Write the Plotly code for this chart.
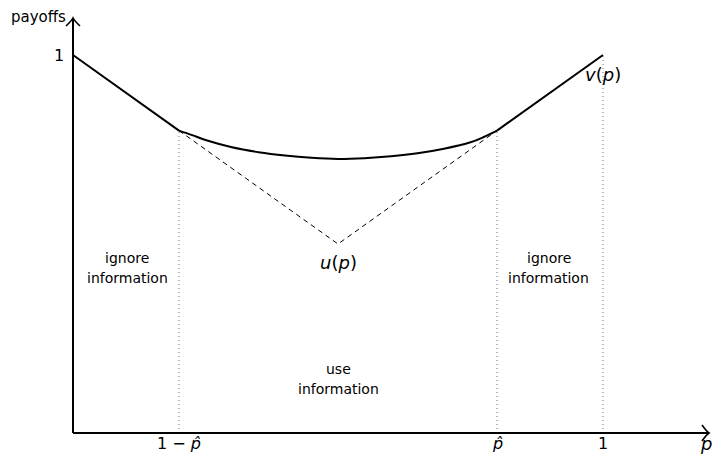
import plotly.graph_objects as go

# ---- data ----
v_left_p = [0.0, 0.2]
v_left_y = [1.0, 0.8]
v_right_p = [0.8, 1.0]
v_right_y = [0.8, 1.0]

curve_p = [0.2, 0.225, 0.25, 0.3, 0.35, 0.4, 0.45, 0.5, 0.55, 0.6, 0.65, 0.7, 0.75, 0.775, 0.8]
curve_y = [0.8, 0.788, 0.775, 0.756, 0.743, 0.734, 0.728, 0.725, 0.727, 0.732, 0.740, 0.752, 0.769, 0.783, 0.8]

dash_p = [0.2, 0.5, 0.8]
dash_y = [0.8, 0.5, 0.8]

guide_p = [0.2, 0.8, 1.0]
guide_top = [0.8, 0.8, 1.0]

xtick_vals = [0.2, 0.8, 1.0]
xtick_text = ["1 − <i>p\u0302</i>", "<i>p\u0302</i>", "1"]
ytick_vals = [1.0]
ytick_text = ["1"]

region_p = [0.102, 0.5, 0.898]
region_line1 = ["ignore", "use", "ignore"]
region_line2 = ["information", "information", "information"]

x_end = 1.2
y_end = 1.098

# scale: pixel x = 73 + 530*p ; pixel y = 433 - 378*v
SX, SY = 530.0, 378.0
OX, OY = 73, 433
W, H = 715, 458


def dyp(pix):
    """pixel row -> data y"""
    return (OY - pix) / SY


def dxp(pix):
    """pixel column -> data x"""
    return (pix - OX) / SX


FONT = "DejaVu Sans"
fig = go.Figure()

# dotted guides
for gp, gt in zip(guide_p, guide_top):
    fig.add_trace(go.Scatter(x=[gp, gp], y=[0, gt], mode="lines",
                             line=dict(color="#666", width=1, dash="1px,3px"),
                             hoverinfo="skip", showlegend=False))

# dashed V
fig.add_trace(go.Scatter(x=dash_p, y=dash_y, mode="lines",
                         line=dict(color="black", width=1, dash="5px,4px"),
                         hoverinfo="skip", showlegend=False))

# solid lines
fig.add_trace(go.Scatter(x=v_left_p, y=v_left_y, mode="lines",
                         line=dict(color="black", width=2), showlegend=False))
fig.add_trace(go.Scatter(x=curve_p, y=curve_y, mode="lines",
                         line=dict(color="black", width=2, shape="spline", smoothing=1.0),
                         showlegend=False))
fig.add_trace(go.Scatter(x=v_right_p, y=v_right_y, mode="lines",
                         line=dict(color="black", width=2), showlegend=False))

# axes lines
fig.add_shape(type="line", x0=0, y0=0, x1=x_end, y1=0, line=dict(color="black", width=2))
fig.add_shape(type="line", x0=0, y0=0, x1=0, y1=y_end, line=dict(color="black", width=2))

# arrowheads (curved "to" style)
dx, dy = 7 / SX, 8 / SY
ax, ay = x_end, 0
fig.add_shape(type="path",
              path=f"M {ax-dx},{ay+dy} Q {ax-dx*0.3},{ay+dy*0.15} {ax},{ay} Q {ax-dx*0.3},{ay-dy*0.15} {ax-dx},{ay-dy}",
              line=dict(color="black", width=1.6))
dx2, dy2 = 7 / SX, 8 / SY
bx, by = 0, y_end
fig.add_shape(type="path",
              path=f"M {bx-dx2},{by-dy2} Q {bx-dx2*0.15},{by-dy2*0.3} {bx},{by} Q {bx+dx2*0.15},{by-dy2*0.3} {bx+dx2},{by-dy2}",
              line=dict(color="black", width=1.6))

ann = []
for xv, xt in zip(xtick_vals, xtick_text):
    ann.append(dict(x=xv, y=dyp(443), text=xt, showarrow=False, xanchor="center", yanchor="middle",
                    font=dict(family=FONT, size=16, color="black")))
for yv, yt in zip(ytick_vals, ytick_text):
    ann.append(dict(x=dxp(66), y=yv, text=yt, showarrow=False, xanchor="right", yanchor="middle",
                    font=dict(family=FONT, size=16, color="black")))
for rp, l1, l2 in zip(region_p, region_line1, region_line2):
    top = 258 if l1 == "ignore" else 369
    ann.append(dict(x=rp, y=dyp(top), text=l1, showarrow=False, xanchor="center", yanchor="middle",
                    font=dict(family=FONT, size=14, color="black")))
    ann.append(dict(x=rp, y=dyp(top + 20), text=l2, showarrow=False, xanchor="center", yanchor="middle",
                    font=dict(family=FONT, size=14, color="black")))

ann.append(dict(x=dxp(38), y=dyp(17), text="payoffs", showarrow=False, xanchor="center", yanchor="middle",
                font=dict(family=FONT, size=15, color="black")))
ann.append(dict(x=dxp(706), y=dyp(443), text="<i>p</i>", showarrow=False, xanchor="center", yanchor="middle",
                font=dict(family=FONT, size=18, color="black")))
ann.append(dict(x=1.0, y=dyp(74), text="<i>v</i>(<i>p</i>)", showarrow=False, xanchor="center", yanchor="middle",
                font=dict(family=FONT, size=18, color="black")))
ann.append(dict(x=0.5, y=dyp(262), text="<i>u</i>(<i>p</i>)", showarrow=False, xanchor="center", yanchor="middle",
                font=dict(family=FONT, size=18, color="black")))

fig.update_layout(
    width=W, height=H,
    margin=dict(l=0, r=0, t=0, b=0),
    paper_bgcolor="white", plot_bgcolor="white",
    xaxis=dict(range=[-OX / SX, (W - OX) / SX], visible=False, fixedrange=True),
    yaxis=dict(range=[-(H - OY) / SY, OY / SY], visible=False, fixedrange=True),
    annotations=ann,
    showlegend=False,
)

fig.write_html("out.html",
               config={"displayModeBar": False, "staticPlot": True},
               post_script="document.body.style.margin='0px';document.body.style.overflow='hidden';")
